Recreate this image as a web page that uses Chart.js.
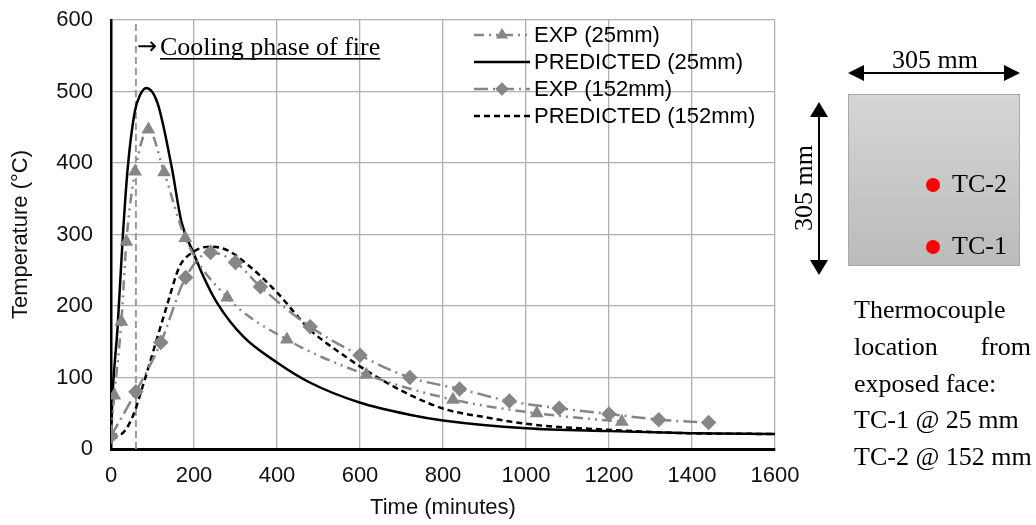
<!DOCTYPE html>
<html>
<head>
<meta charset="utf-8">
<script src="https://cdn.jsdelivr.net/npm/chart.js@4.4.1/dist/chart.umd.min.js"></script>
<style>
  html, body { margin: 0; padding: 0; background: #fff; }
  #wrap { position: relative; width: 1036px; height: 525px; }
  #panel { position: absolute; left: 0; top: 0; pointer-events: none; }
  #panel text { font-family: "Liberation Serif", "Times New Roman", serif; font-size: 26px; fill: #000; }
</style>
</head>
<body>
<div id="wrap">
  <canvas id="tempChart" width="1036" height="525"></canvas>
  <svg id="panel" width="1036" height="525">
    <defs>
      <linearGradient id="slab" x1="0" y1="0" x2="0" y2="1">
        <stop offset="0" stop-color="#d5d5d5"/>
        <stop offset="1" stop-color="#bbbbbb"/>
      </linearGradient>
    </defs>
    <!-- horizontal dimension -->
    <line x1="860" y1="73" x2="1008" y2="73" stroke="#000" stroke-width="2"/>
    <polygon points="848,73 864,65 864,81" fill="#000"/>
    <polygon points="1020,73 1004,65 1004,81" fill="#000"/>
    <text x="935" y="68" text-anchor="middle">305 mm</text>
    <!-- slab section -->
    <rect x="848.5" y="94.5" width="171" height="171" fill="url(#slab)" stroke="#a8a8a8" stroke-width="1"/>
    <!-- vertical dimension -->
    <line x1="819" y1="114" x2="819" y2="263" stroke="#000" stroke-width="2"/>
    <polygon points="819,102 810,117 828,117" fill="#000"/>
    <polygon points="819,275 810,260 828,260" fill="#000"/>
    <text transform="translate(812,188) rotate(-90)" text-anchor="middle">305 mm</text>
    <!-- thermocouples -->
    <circle cx="933" cy="185" r="7" fill="#ff0000"/>
    <circle cx="933" cy="247" r="7" fill="#ff0000"/>
    <text x="952" y="192">TC-2</text>
    <text x="952" y="254">TC-1</text>
    <!-- caption -->
    <text x="854" y="318">Thermocouple</text>
    <text x="854" y="355">location</text>
    <text x="1031" y="355" text-anchor="end">from</text>
    <text x="854" y="392">exposed face:</text>
    <text x="854" y="428">TC-1 @ 25 mm</text>
    <text x="854" y="465">TC-2 @ 152 mm</text>
  </svg>
</div>
<script>
// 试验数据 (25mm)
const expTime25 = [0, 8, 25, 37, 58, 90, 128, 179, 280, 424, 615, 824, 1026, 1231];
const expTemp25 = [20, 75, 178, 290, 388, 447, 387, 295, 212, 153, 104, 69, 50, 38];

// 预测曲线 (25mm)
const predTime25 = [0, 4, 16, 28, 40, 57, 70, 85, 112, 146, 170, 199, 223, 256, 319, 400, 479, 599, 719, 800, 1000, 1200, 1400, 1600];
const predTemp25 = [20, 79, 171, 293, 391, 471, 495, 505, 484, 395, 317, 274, 241, 204, 157, 121, 93, 65, 48, 40, 29, 25, 22, 21];

// 试验数据 (152mm)
const expTime152 = [0, 60, 120, 180, 240, 300, 360, 480, 600, 720, 840, 960, 1080, 1200, 1320, 1440];
const expTemp152 = [18, 80, 149, 240, 275, 261, 227, 171, 131, 100, 84, 67, 57, 49, 41, 37];

// 预测曲线 (152mm)
const predTime152 = [0, 20, 52, 76, 105, 134, 165, 189, 237, 280, 335, 400, 479, 551, 623, 719, 809, 896, 1017, 1195, 1395, 1600];
const predTemp152 = [20, 20, 45, 87, 143, 199, 255, 272, 283, 278, 255, 219, 167, 135, 107, 76, 55, 45, 34, 27, 22, 21];

// 冷却阶段起点
const coolingStart = 60;
const tempRange = [0, 600];

const xTicks = { min: 0, max: 1600, step: 200 };
const yTicks = { min: 0, max: 600, step: 100 };

function toPoints(xs, ys) {
    return xs.map((x, i) => ({ x: x, y: ys[i] }));
}

const GRAY = '#868686';
const ARIAL = '"Liberation Sans", Arial, sans-serif';

// 图例
const legendPlugin = {
    id: 'innerLegend',
    afterDraw(chart) {
        const ctx = chart.ctx;
        const area = chart.chartArea;
        const x0 = area.left + 363;
        let y = 35;
        ctx.save();
        chart.data.datasets.forEach(ds => {
            if (ds.noLegend) return;
            ctx.strokeStyle = ds.borderColor;
            ctx.lineWidth = ds.borderWidth;
            ctx.setLineDash(ds.borderDash || []);
            ctx.beginPath();
            ctx.moveTo(x0, y);
            ctx.lineTo(x0 + 56, y);
            ctx.stroke();
            ctx.setLineDash([]);
            if (ds.pointRadius > 0) {
                ctx.fillStyle = ds.pointBackgroundColor;
                ctx.strokeStyle = ds.pointBorderColor;
                Chart.helpers.drawPoint(ctx, { pointStyle: ds.pointStyle, radius: ds.pointRadius - 1, rotation: 0, borderWidth: 1 }, x0 + 28, y);
            }
            ctx.fillStyle = '#000';
            ctx.font = '22px ' + ARIAL;
            ctx.textBaseline = 'middle';
            ctx.textAlign = 'left';
            ctx.fillText(ds.label, x0 + 60, y + 1);
            y += 27;
        });
        ctx.restore();
    }
};

// 注释文字
const notePlugin = {
    id: 'coolingNote',
    afterDatasetsDraw(chart) {
        const ctx = chart.ctx;
        const xs = chart.scales.x;
        const x = xs.getPixelForValue(coolingStart) + 1;
        const y = 55;
        ctx.save();
        ctx.fillStyle = '#000';
        ctx.textBaseline = 'alphabetic';
        ctx.textAlign = 'left';
        const arrow = '\u2192';
        ctx.font = '24px "DejaVu Sans", sans-serif';
        ctx.fillText(arrow, x, y - 1);
        const aw = ctx.measureText(arrow).width + 3;
        ctx.font = '26px "Liberation Serif", "Times New Roman", serif';
        const label = 'Cooling phase of fire';
        ctx.fillText(label, x + aw, y);
        const lw = ctx.measureText(label).width;
        ctx.fillRect(x + aw, y + 3, lw, 1.6);
        ctx.restore();
    }
};

document.addEventListener('DOMContentLoaded', function() {
    new Chart(document.getElementById('tempChart'), {
        type: 'line',
        data: {
            datasets: [
                {
                    label: 'EXP (25mm)',
                    data: toPoints(expTime25, expTemp25),
                    borderColor: GRAY,
                    borderWidth: 2.5,
                    borderDash: [10, 5, 2, 5, 2, 5],
                    pointStyle: 'triangle',
                    pointRadius: 5.5,
                    pointBackgroundColor: GRAY,
                    pointBorderColor: GRAY,
                    cubicInterpolationMode: 'monotone'
                },
                {
                    label: 'PREDICTED (25mm)',
                    data: toPoints(predTime25, predTemp25),
                    borderColor: '#000',
                    borderWidth: 2.5,
                    pointRadius: 0,
                    cubicInterpolationMode: 'monotone'
                },
                {
                    label: 'EXP (152mm)',
                    data: toPoints(expTime152, expTemp152),
                    borderColor: GRAY,
                    borderWidth: 2.5,
                    borderDash: [14, 5, 2, 5],
                    pointStyle: 'rectRot',
                    pointRadius: 6,
                    pointBackgroundColor: GRAY,
                    pointBorderColor: GRAY,
                    cubicInterpolationMode: 'monotone'
                },
                {
                    label: 'PREDICTED (152mm)',
                    data: toPoints(predTime152, predTemp152),
                    borderColor: '#000',
                    borderWidth: 2.5,
                    borderDash: [6, 4],
                    pointRadius: 0,
                    cubicInterpolationMode: 'monotone'
                },
                {
                    label: 'cooling',
                    noLegend: true,
                    data: toPoints([coolingStart, coolingStart], tempRange),
                    borderColor: '#9a9a9a',
                    borderWidth: 2,
                    borderDash: [7, 4],
                    pointRadius: 0
                }
            ]
        },
        options: {
            responsive: true,
            maintainAspectRatio: false,
            animation: false,
            layout: { padding: { top: 20, right: 261, left: 0, bottom: 0 } },
            plugins: {
                legend: { display: false },
                tooltip: { enabled: false }
            },
            scales: {
                x: {
                    type: 'linear',
                    min: xTicks.min,
                    max: xTicks.max,
                    ticks: { stepSize: xTicks.step, color: '#111', font: { family: ARIAL, size: 22 }, padding: 14, callback: v => String(v) },
                    grid: { color: '#b0b0b0', lineWidth: 1.3, drawTicks: false },
                    border: { color: '#000', width: 3 },
                    title: { display: true, text: 'Time (minutes)', color: '#111', font: { family: ARIAL, size: 22 }, padding: { top: 4, bottom: 4 } },
                    afterFit(scale) { scale.height = 76; }
                },
                y: {
                    min: yTicks.min,
                    max: yTicks.max,
                    ticks: { stepSize: yTicks.step, color: '#111', font: { family: ARIAL, size: 22 }, padding: 18, callback: v => String(v) },
                    grid: { color: '#b0b0b0', lineWidth: 1.3, drawTicks: false },
                    border: { color: '#000', width: 2.5 },
                    title: { display: true, text: 'Temperature (°C)', color: '#111', font: { family: ARIAL, size: 22 }, padding: { top: 8, bottom: 4 } },
                    afterFit(scale) {
                        scale.width = 111;
                        scale.paddingTop = 0;
                        scale.paddingBottom = 0;
                    }
                }
            }
        },
        plugins: [legendPlugin, notePlugin]
    });
});
</script>
</body>
</html>
